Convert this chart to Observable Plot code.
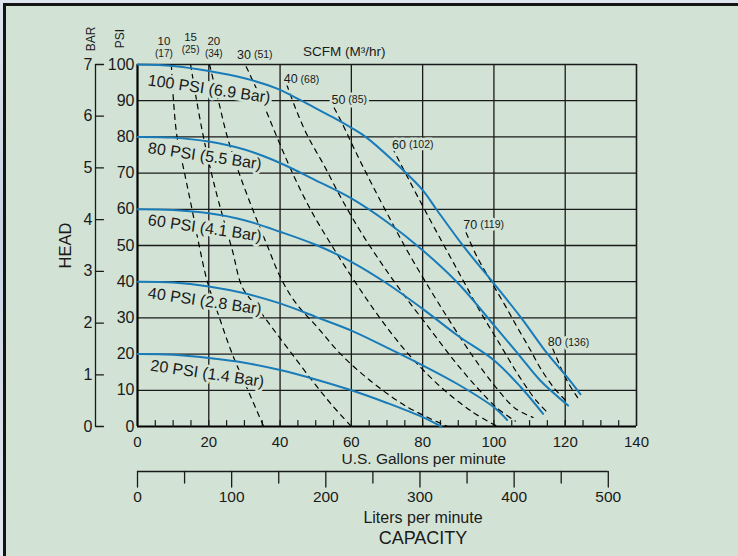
<!DOCTYPE html>
<html>
<head>
<meta charset="utf-8">
<script src="https://cdn.jsdelivr.net/npm/d3@7"></script>
<script src="https://cdn.jsdelivr.net/npm/@observablehq/plot@0.6"></script>
<style>
  html, body { margin: 0; padding: 0; width: 738px; height: 556px; overflow: hidden;
    background: linear-gradient(180deg, #dfe5ee, #c9d3e3 40%, #e3e8f0); }
  #frame { position: absolute; left: 3px; top: 3px; width: 735px; height: 553px;
    box-sizing: border-box; border-left: 3px solid #141414; border-top: 3px solid #141414;
    background: #d2e3d5; }
  #chart { position: absolute; left: 0; top: 0; }
</style>
</head>
<body>
<div id="frame"></div>
<div id="chart"></div>
<script>
// ---------------- data ----------------
const gpmTicks = [0, 20, 40, 60, 80, 100, 120, 140];
const gpmGrid = [20, 40, 60, 80, 100, 120];
const gpmMinor = [5,10,15,20,25,30,35,40,45,50,55,60,65,70,75,80,85,90,95,100,105,110,115,120,125,130,135];
const psiTicks = [0, 10, 20, 30, 40, 50, 60, 70, 80, 90, 100];
const psiGrid = [10, 20, 30, 40, 50, 60, 70, 80, 90];
const barTicks = [0, 1, 2, 3, 4, 5, 6, 7];
const literMajor = [0, 100, 200, 300, 400, 500];
const literMinor = [50, 150, 250, 350, 450];

// pump performance curves (air inlet pressure), [gpm, psi head]
const curveNames = ["100 PSI (6.9 Bar)", "80 PSI (5.5 Bar)", "60 PSI (4.1 Bar)", "40 PSI (2.8 Bar)", "20 PSI (1.4 Bar)"];
const curve100 = [[0,100],[10,99.6],[20,98.2],[30,96.2],[39,93.4],[46,90],[51,87.4],[55,85.3],[60,82.5],[64,80],[71.5,73.6],[80,65.3],[84,59.8],[91.6,49.6],[100,39.5],[107.5,30.2],[115,20.1],[120.6,13.6],[124.3,8.9]];
const curve80 = [[0,80],[10,79.8],[20,78.7],[30,76.5],[40,72.8],[50,68],[60,63],[70,56.5],[80,48.7],[90,39.5],[100,28],[107,19.8],[113,12.7],[120.8,5.8]];
const curve60 = [[0,60],[10,59.8],[20,58.9],[30,57],[40,53.8],[50,50.2],[60,45.5],[70,39.5],[80,32.5],[90,25],[100,18.3],[107.5,10.9],[113.8,3.5]];
const curve40 = [[0,40],[10,39.8],[20,38.7],[30,36.8],[40,34],[50,30.3],[60,26.5],[70,21.8],[80,16.9],[90,11.6],[100,5.3],[103.7,1.8]];
const curve20 = [[0,20],[10,19.8],[20,18.9],[30,17.6],[40,15.6],[50,13],[60,10],[70,6.5],[80,2.6],[85.2,0]];
const curves = [curve100, curve80, curve60, curve40, curve20];
// label anchors for the curve names [gpm, psi]
const curveLabelAt = [[20.1,93.2],[18.9,74.7],[18.9,54.8],[18.9,34.6],[19.6,14.6]];

// air consumption lines (SCFM), [gpm, psi]
const scfm = ["10", "15", "20", "30", "40", "50", "60", "70", "80"];
const m3hr = ["(17)", "(25)", "(34)", "(51)", "(68)", "(85)", "(102)", "(119)", "(136)"];
const air10 = [[9.5,100],[10.1,90],[11.1,80],[13.2,70],[15.3,60],[17.3,50],[19.6,40],[23,30],[26.6,20],[31,10],[35.4,0]];
const air15 = [[14.9,100],[16.7,89.4],[18.5,80],[20.5,71],[22.8,62],[26.6,48.7],[29.4,38.5],[33.5,33],[38,27],[43,20.5],[49,12.7],[54.5,6],[60,0]];
const air20 = [[20.2,100],[22.7,90],[25.2,80],[28.5,70],[32.3,60],[36.4,50],[40.1,41.2],[44.5,34],[50.4,27.5],[57,20],[65.5,12.5],[75.5,5.5],[87,0]];
const air30 = [[30.5,99.4],[34.9,90],[39.1,80],[43.5,70],[48.5,60],[54.5,50],[61,40],[68,30],[76,20],[85,11],[94,4],[101,0]];
const air40 = [[41.9,94.4],[44.3,88],[47.6,80.5],[52.3,72.2],[57.2,63],[62.5,54],[68.5,45],[75,36],[82,27],[89,18],[95.5,10.5],[101,5],[106,1.5]];
const air50 = [[55.2,88],[57.4,83.8],[61.2,75.9],[65.4,67.6],[70.5,58],[76,48],[82,38],[88,28.5],[94,19.5],[100,11.5],[106,5],[111,2.5]];
const air60 = [[71.5,77],[75.7,69],[80.5,60],[86,50],[91,41],[96,32],[101.5,23],[107,14],[112,7],[115.3,3.6]];
const air70 = [[92.2,53.5],[95.3,46.8],[99,40.4],[102.8,34],[106.5,27.5],[110.3,21],[113.1,16],[117,10.5],[120.6,6.7]];
const air80 = [[116.5,21.5],[118.7,16.4],[121,11.8],[123.4,8.1],[124.2,7]];
const airLines = [air10, air15, air20, air30, air40, air50, air60, air70, air80];
// SCFM label anchors [gpm, psi]; stacked = number above m3/hr
const scfmLabelAt = [[7.4,106.1],[14.9,107.3],[21.4,106.1],[32.1,102.7],[45.2,95.9],[58.6,90.2],[75.6,77.9],[95.6,55.8],[119.3,23.3]];
const scfmStacked = [true, true, true, false, false, false, false, false, false];

// ---------------- build ----------------
const L2G = 1 / 3.785411784; // liters -> US gallons
const BAR2PSI = 100 / 7;     // bar axis as drawn on the chart

const curveRows = curves.flatMap((c, i) => c.map(([x, y]) => ({x, y, k: i})));
const airRows = airLines.flatMap((c, i) => c.map(([x, y]) => ({x, y, k: i})));
const curveLabelRows = curveNames.map((t, i) => ({t, x: curveLabelAt[i][0], y: curveLabelAt[i][1]}));
const scfmRows = scfm.map((s, i) => ({s, m: m3hr[i], x: scfmLabelAt[i][0], y: scfmLabelAt[i][1], st: scfmStacked[i]}));
const stackRows = scfmRows.filter(d => d.st);
const inlineRows = scfmRows.filter(d => !d.st);

const FONT = "Liberation Sans, Arial, Helvetica, sans-serif";
const INK = "#1a1a1a";
const BLUE = "#1a7bb9";
const BG = "#d2e3d5";
const line = {draw(ctx, l) { ctx.moveTo(0, 0); ctx.lineTo(0, -l); }};
const halo = {stroke: BG, strokeWidth: 5, strokeLinejoin: "round", paintOrder: "stroke"};

const plot = Plot.plot({
  width: 738,
  height: 556,
  marginLeft: 137,
  marginRight: 102,
  marginTop: 64,
  marginBottom: 130,
  x: {domain: [0, 140], axis: null},
  y: {domain: [0, 100], axis: null},
  style: {background: "transparent", fontFamily: FONT, color: INK, overflow: "visible"},
  marks: [
    // grid
    Plot.ruleX(gpmGrid, {y1: 0, y2: 100, stroke: INK, strokeWidth: 1.3}),
    Plot.ruleY(psiGrid, {x1: 0, x2: 140, stroke: INK, strokeWidth: 1.3}),
    // frame
    Plot.ruleY([100], {x1: 0, x2: 140, stroke: INK, strokeWidth: 1.6}),
    Plot.ruleX([140], {y1: 0, y2: 100, stroke: INK, strokeWidth: 1.6}),
    Plot.ruleX([0], {y1: 0, y2: 100, stroke: "#000", strokeWidth: 2.2}),
    Plot.ruleY([0], {x1: 0, x2: 140, stroke: "#000", strokeWidth: 2.2}),
    // minor ticks along the GPM axis (inside)
    Plot.vector(gpmMinor, {x: d => d, y: 0, length: 6, rotate: 0, anchor: "start", shape: line, stroke: INK, strokeWidth: 1.2}),
    // air consumption lines
    Plot.line(airRows, {x: "x", y: "y", z: "k", stroke: "#000", strokeWidth: 1.2, strokeDasharray: "5,5", curve: "catmull-rom"}),
    // curve labels (boxed)
    Plot.text(curveLabelRows, {x: "x", y: "y", text: "t", rotate: 8.3, fontSize: 16, fill: INK, ...halo, ariaDescription: "boxed"}),
    // SCFM labels
    Plot.text(stackRows, {x: "x", y: "y", text: "s", dy: -0.8, fontSize: 11.5, fill: INK}),
    Plot.text(stackRows, {x: "x", y: "y", text: "m", dy: 11.4, fontSize: 10, fill: INK}),
    Plot.text(inlineRows, {x: "x", y: "y", text: "s", textAnchor: "end", dx: -1, fontSize: 12.5, fill: INK, ...halo, ariaDescription: "boxed"}),
    Plot.text(inlineRows, {x: "x", y: "y", text: "m", textAnchor: "start", dx: 2, fontSize: 10.5, fill: INK, ...halo, ariaDescription: "boxed"}),
    Plot.text(["SCFM (M³/hr)"], {x: 58, y: 100, dy: -12.5, text: d => d, fontSize: 13.5, fill: INK}),
    // performance curves
    Plot.line(curveRows, {x: "x", y: "y", z: "k", stroke: BLUE, strokeWidth: 2, curve: "catmull-rom"}),
    // GPM axis labels
    Plot.text(gpmTicks, {x: d => d, y: 0, dy: 16, text: d => String(d), fontSize: 15, fill: INK}),
    Plot.text(["U.S. Gallons per minute"], {x: 80.3, y: 0, dy: 32.5, text: d => d, fontSize: 15.5, fill: INK}),
    // PSI labels
    Plot.text(psiTicks, {x: 0, y: d => d, dx: -3, textAnchor: "end", text: d => String(d), fontSize: 16, fill: INK}),
    Plot.text(["PSI"], {x: 0, y: 100, dx: -17, dy: -26, rotate: -90, text: d => d, fontSize: 12, fill: INK}),
    // BAR axis
    Plot.ruleX([0], {y1: 0, y2: 7 * BAR2PSI, dx: -42, stroke: INK, strokeWidth: 1.3}),
    Plot.vector(barTicks, {x: 0, y: d => d * BAR2PSI, dx: -42, length: 8, rotate: 90, anchor: "start", shape: line, stroke: INK, strokeWidth: 1.3}),
    Plot.text(barTicks, {x: 0, y: d => d * BAR2PSI, dx: -45, textAnchor: "end", text: d => String(d), fontSize: 16, fill: INK}),
    Plot.text(["BAR"], {x: 0, y: 100, dx: -46.5, dy: -25.5, rotate: -90, text: d => d, fontSize: 12, fill: INK}),
    Plot.text(["HEAD"], {x: 0, y: 50, dx: -72, rotate: -90, text: d => d, fontSize: 16.5, fill: INK}),
    // Liters per minute axis
    Plot.ruleY([0], {x1: 0, x2: 500 * L2G, dy: 45, stroke: INK, strokeWidth: 1.3}),
    Plot.vector(literMajor, {x: d => d * L2G, y: 0, dy: 45, length: 15.5, rotate: 180, anchor: "start", shape: line, stroke: INK, strokeWidth: 1.3}),
    Plot.vector(literMinor, {x: d => d * L2G, y: 0, dy: 45, length: 11.5, rotate: 180, anchor: "start", shape: line, stroke: INK, strokeWidth: 1.3}),
    Plot.text(literMajor, {x: d => d * L2G, y: 0, dy: 71, text: d => String(d), fontSize: 15.5, fill: INK}),
    Plot.text(["Liters per minute"], {x: 80.1, y: 0, dy: 91, text: d => d, fontSize: 16, fill: INK}),
    Plot.text(["CAPACITY"], {x: 80.1, y: 0, dy: 112, text: d => d, fontSize: 18, fill: INK})
  ]
});

document.getElementById("chart").appendChild(plot);

// rectangular background boxes behind boxed labels (hide grid / dashed lines under them)
try {
  const groups = Array.from(plot.querySelectorAll("g")).filter(g => g.getAttribute("aria-description") === "boxed");
  for (const g of groups) {
    for (const t of Array.from(g.querySelectorAll("text"))) {
      const bb = t.getBBox();
      if (!bb || !bb.width) continue;
      const pad = 1.5;
      const r = document.createElementNS("http://www.w3.org/2000/svg", "rect");
      r.setAttribute("x", bb.x - pad);
      r.setAttribute("y", bb.y + 1);
      r.setAttribute("width", bb.width + 2 * pad);
      r.setAttribute("height", Math.max(0, bb.height - 2));
      const tr = t.getAttribute("transform");
      if (tr) r.setAttribute("transform", tr);
      r.setAttribute("fill", BG);
      r.setAttribute("stroke", "none");
      g.insertBefore(r, t);
    }
  }
} catch (e) { /* halos remain as fallback */ }
</script>
</body>
</html>
